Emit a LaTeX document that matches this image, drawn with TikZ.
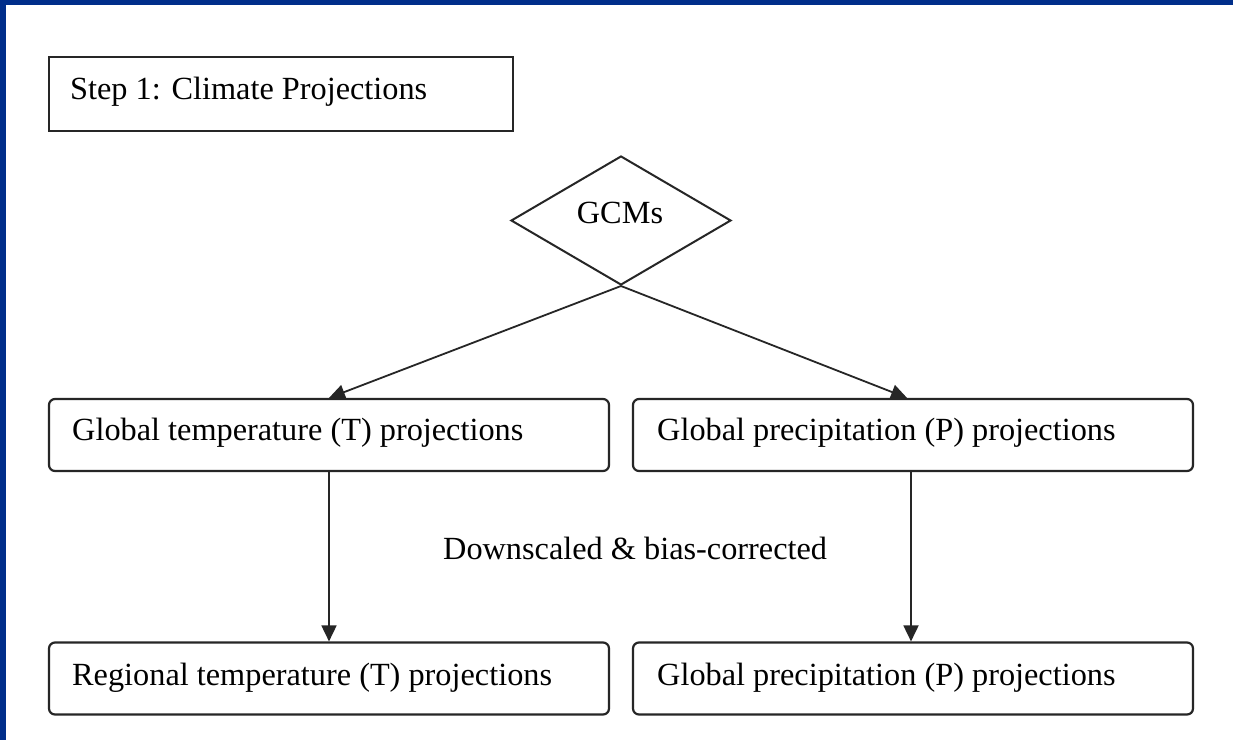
\documentclass[tikz,border=0pt]{standalone}
\usepackage{fontspec}
\setmainfont{Liberation Serif}
\usetikzlibrary{shapes.geometric,arrows.meta}
\definecolor{frameblue}{RGB}{0,46,138}
\begin{document}
\begin{tikzpicture}[x=1pt,y=-1pt,
  txt/.style={anchor=base west,inner sep=0pt,font=\fontsize{32.3}{38}\selectfont},
  plainbox/.style={draw=black!85,line width=2.2pt,minimum width=464pt,minimum height=74pt,inner sep=0pt},
  projbox/.style={draw=black!85,line width=2.2pt,rounded corners=6pt,minimum width=560pt,minimum height=72pt,inner sep=0pt},
  gcmshape/.style={draw=black!85,line width=2pt,diamond,minimum width=220pt,minimum height=129pt,inner sep=0pt},
  flow/.style={draw=black!85,line width=1.8pt,-{Triangle[length=16pt,width=15pt]}}
]
\useasboundingbox (0,0) rectangle (1233,740);
\fill[white] (0,0) rectangle (1233,740);
\fill[frameblue] (0,0) rectangle (1233,5);
\fill[frameblue] (0,0) rectangle (6,740);

\node[plainbox] (step) at (281,94) {};
\node[txt] (steptxt) at (70,99) {Step 1: Climate Projections};

\node[gcmshape] (gcm) at (621,220.5) {};
\node[txt,anchor=base] (gcmtxt) at (620,223) {GCMs};

\node[projbox] (gT) at (329,435) {};
\node[txt] (gTtxt) at (72,440) {Global temperature (T) projections};
\node[projbox] (gP) at (913,435) {};
\node[txt] (gPtxt) at (657,440) {Global precipitation (P) projections};

\node[projbox] (rT) at (329,678.5) {};
\node[txt] (rTtxt) at (72,685) {Regional temperature (T) projections};
\node[projbox] (rP) at (913,678.5) {};
\node[txt] (rPtxt) at (657,685) {Global precipitation (P) projections};

\node[txt] (down) at (443,559) {Downscaled \& bias-corrected};

\draw[flow] (gcm.south) -- (gT.north);
\draw[flow] (gcm.south) -- ([xshift=-6pt]gP.north);
\draw[flow] (gT.south) -- (rT.north);
\draw[flow] ([xshift=-2pt]gP.south) -- ([xshift=-2pt]rP.north);
\end{tikzpicture}
\end{document}
